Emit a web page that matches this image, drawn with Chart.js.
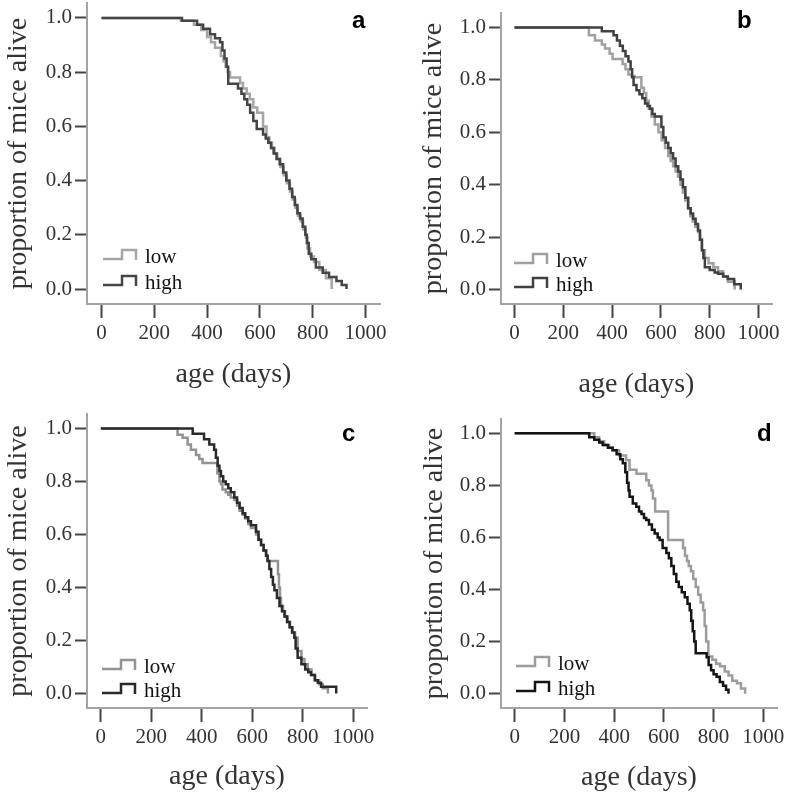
<!DOCTYPE html>
<html>
<head>
<meta charset="utf-8">
<script src="https://cdn.jsdelivr.net/npm/chart.js@4.4.0/dist/chart.umd.min.js"></script>
<style>
  html, body { margin: 0; padding: 0; background: #fff; overflow: hidden; }
  #wrap { position: relative; width: 787px; height: 792px; overflow: hidden; background: #fff; }
  canvas { position: absolute; }
</style>
</head>
<body>
<div id="wrap">
  <canvas id="pa" width="394" height="410" style="left:0;top:0"></canvas>
  <canvas id="pb" width="393" height="410" style="left:394px;top:0"></canvas>
  <canvas id="pc" width="394" height="410" style="left:0;top:396px"></canvas>
  <canvas id="pd" width="393" height="410" style="left:394px;top:396px"></canvas>
</div>
<script>
// axis ticks
var xTicks = [0, 200, 400, 600, 800, 1000];
var yTicks = [0, 0.2, 0.4, 0.6, 0.8, 1.0];
var seriesNames = ['low', 'high'];

// panel a
var aLowDays = [0,300,350,378,400,415,430,452,462,470,478,487,525,536,550,562,575,590,612,625,636,646,656,666,678,690,702,714,724,734,744,754,764,774,780,790,805,825,850,872];
var aLowSurv = [1.0,0.99,0.975,0.955,0.93,0.91,0.89,0.86,0.84,0.82,0.80,0.78,0.76,0.74,0.72,0.70,0.67,0.65,0.60,0.56,0.54,0.52,0.50,0.48,0.45,0.42,0.39,0.36,0.33,0.30,0.27,0.25,0.22,0.19,0.15,0.12,0.10,0.07,0.04,0.0];
var aHighDays = [0,305,362,385,411,430,449,458,466,474,480,517,530,541,552,563,575,588,612,622,632,642,652,663,675,688,700,712,722,732,742,752,762,772,778,785,795,812,838,862,890,910,928];
var aHighSurv = [1.0,0.99,0.975,0.96,0.94,0.925,0.91,0.88,0.85,0.82,0.757,0.74,0.72,0.70,0.68,0.65,0.62,0.59,0.57,0.555,0.54,0.52,0.50,0.48,0.46,0.43,0.40,0.37,0.34,0.31,0.28,0.26,0.23,0.20,0.17,0.13,0.11,0.08,0.06,0.045,0.03,0.015,0.0];

// panel b
var bLowDays = [0,305,330,358,371,390,402,443,455,467,480,493,520,530,540,550,561,575,590,603,617,630,640,650,660,670,680,690,700,710,720,730,740,752,760,768,780,795,815,834,855,874,902];
var bLowSurv = [1.0,0.97,0.95,0.935,0.92,0.90,0.88,0.86,0.84,0.82,0.815,0.81,0.77,0.75,0.72,0.69,0.66,0.63,0.60,0.57,0.54,0.51,0.49,0.47,0.45,0.43,0.40,0.37,0.34,0.31,0.28,0.26,0.24,0.22,0.19,0.15,0.12,0.10,0.085,0.07,0.05,0.03,0.0];
var bHighDays = [0,358,406,420,432,444,455,467,476,482,488,500,512,524,535,545,555,565,575,602,610,620,630,640,650,660,671,680,690,700,712,722,732,742,752,760,768,774,780,800,820,834,855,874,900,927];
var bHighSurv = [1.0,0.985,0.97,0.95,0.93,0.91,0.89,0.87,0.84,0.81,0.78,0.76,0.745,0.73,0.71,0.70,0.69,0.67,0.66,0.62,0.58,0.56,0.54,0.52,0.50,0.47,0.45,0.42,0.39,0.35,0.31,0.29,0.27,0.25,0.225,0.19,0.15,0.12,0.085,0.075,0.065,0.06,0.05,0.04,0.02,0.0];

// panel c
var cLowDays = [0,304,324,344,357,377,390,403,462,470,476,482,495,505,515,529,540,550,562,572,584,595,615,625,635,645,655,661,702,706,710,714,722,730,740,750,760,770,780,795,807,820,835,850,865,880,900];
var cLowSurv = [1.0,0.977,0.965,0.94,0.92,0.90,0.885,0.87,0.83,0.80,0.79,0.77,0.76,0.75,0.74,0.73,0.71,0.69,0.675,0.66,0.64,0.625,0.60,0.58,0.56,0.54,0.52,0.50,0.45,0.40,0.36,0.33,0.31,0.29,0.27,0.25,0.23,0.21,0.16,0.13,0.11,0.09,0.07,0.05,0.035,0.02,0.0];
var cHighDays = [0,364,409,430,449,456,463,470,476,485,495,505,515,529,540,550,562,572,584,595,615,625,635,645,655,661,668,675,682,688,698,708,718,728,738,748,758,767,772,780,795,810,822,833,848,860,873,933];
var cHighSurv = [1.0,0.98,0.96,0.94,0.92,0.89,0.86,0.84,0.82,0.80,0.79,0.775,0.76,0.74,0.72,0.70,0.68,0.665,0.65,0.635,0.61,0.58,0.56,0.54,0.52,0.50,0.47,0.44,0.41,0.39,0.36,0.33,0.31,0.29,0.27,0.25,0.23,0.21,0.17,0.135,0.11,0.09,0.08,0.07,0.05,0.04,0.025,0.0];

// panel d
var dLowDays = [0,320,340,360,380,394,420,448,462,490,529,540,550,556,565,617,677,685,693,700,709,718,728,738,748,758,764,770,779,795,810,826,845,860,875,894,910,927];
var dLowSurv = [1.0,0.985,0.97,0.955,0.945,0.935,0.915,0.897,0.86,0.845,0.82,0.80,0.78,0.75,0.70,0.59,0.56,0.53,0.51,0.49,0.47,0.44,0.41,0.38,0.35,0.32,0.26,0.20,0.143,0.13,0.115,0.105,0.085,0.07,0.05,0.04,0.02,0.0];
var dHighDays = [0,300,320,340,354,375,394,410,425,435,445,452,458,462,475,489,500,510,520,529,540,552,563,575,583,595,610,620,630,640,650,660,672,684,695,704,710,716,722,728,772,780,790,800,812,825,838,850,860];
var dHighSurv = [1.0,0.985,0.975,0.965,0.955,0.945,0.935,0.92,0.90,0.885,0.85,0.81,0.78,0.756,0.73,0.718,0.70,0.69,0.675,0.667,0.65,0.63,0.615,0.60,0.59,0.56,0.54,0.52,0.49,0.46,0.43,0.41,0.39,0.37,0.345,0.32,0.28,0.24,0.20,0.155,0.14,0.11,0.09,0.075,0.065,0.045,0.03,0.015,0.0];

function toPoints(days, surv) {
  return days.map(function (d, i) { return { x: d, y: surv[i] }; });
}

var panels = [
  { id: 'pa', letter: 'a', low: [aLowDays, aLowSurv], high: [aHighDays, aHighSurv],
    lowColor: '#a6a6a6', highColor: '#454545',
    h: 410, left: 87, padRight: 14, top: 3, bottom: 304, xTitlePad: 19, yTitlePad: 2,
    letterX: 352, letterY: 28, legX: 16, legLow: 45, legHigh: 19 },
  { id: 'pb', letter: 'b', low: [bLowDays, bLowSurv], high: [bHighDays, bHighSurv],
    lowColor: '#a0a0a0', highColor: '#404040',
    h: 410, left: 107, padRight: 15, top: 13, bottom: 304, xTitlePad: 9, yTitlePad: 23,
    letterX: 343, letterY: 28, legX: 13, legLow: 41, legHigh: 17 },
  { id: 'pc', letter: 'c', low: [cLowDays, cLowSurv], high: [cHighDays, cHighSurv],
    lowColor: '#939393', highColor: '#2a2a2a',
    h: 410, left: 87, padRight: 27, top: 18, bottom: 312, xTitlePad: 13, yTitlePad: 2,
    letterX: 342, letterY: 45, legX: 15, legLow: 39, legHigh: 15 },
  { id: 'pd', letter: 'd', low: [dLowDays, dLowSurv], high: [dHighDays, dHighSurv],
    lowColor: '#9c9c9c', highColor: '#141414',
    h: 410, left: 107, padRight: 10, top: 23, bottom: 312, xTitlePad: 12, yTitlePad: 24,
    letterX: 363, letterY: 45, legX: 15, legLow: 42, legHigh: 17 }
];

var serif = "'Liberation Serif', 'DejaVu Serif', serif";

panels.forEach(function (p) {
  var ctx = document.getElementById(p.id).getContext('2d');

  // legend glyphs + panel letter
  var extras = {
    id: 'extras_' + p.id,
    afterDraw: function (chart) {
      var c = chart.ctx, area = chart.chartArea;
      c.save();
      var rows = [
        { name: seriesNames[0], color: p.lowColor, y: area.bottom - p.legLow },
        { name: seriesNames[1], color: p.highColor, y: area.bottom - p.legHigh }
      ];
      rows.forEach(function (r) {
        var x0 = area.left + p.legX;
        c.strokeStyle = r.color;
        c.lineWidth = 2.5;
        c.beginPath();
        c.moveTo(x0, r.y);
        c.lineTo(x0 + 19, r.y);
        c.lineTo(x0 + 19, r.y - 9);
        c.lineTo(x0 + 33, r.y - 9);
        c.lineTo(x0 + 33, r.y + 1);
        c.stroke();
        c.fillStyle = '#111';
        c.font = '21px ' + serif;
        c.textBaseline = 'alphabetic';
        c.fillText(r.name, x0 + 42, r.y + 4);
      });
      c.fillStyle = '#000';
      c.font = "bold 24px 'Liberation Sans', Arial, sans-serif";
      c.fillText(p.letter, p.letterX, p.letterY);
      c.restore();
    }
  };

  new Chart(ctx, {
    type: 'line',
    data: {
      datasets: [
        { label: seriesNames[1], data: toPoints(p.high[0], p.high[1]),
          borderColor: p.highColor, borderWidth: 2.5, stepped: true, pointRadius: 0, fill: false },
        { label: seriesNames[0], data: toPoints(p.low[0], p.low[1]),
          borderColor: p.lowColor, borderWidth: 2.5, stepped: true, pointRadius: 0, fill: false }
      ]
    },
    options: {
      responsive: false,
      animation: false,
      events: [],
      layout: { padding: { left: 0, top: p.top, right: p.padRight, bottom: 0 } },
      plugins: { legend: { display: false }, tooltip: { enabled: false } },
      scales: {
        x: {
          type: 'linear', min: -55, max: 1055,
          afterBuildTicks: function (s) { s.ticks = xTicks.map(function (v) { return { value: v }; }); },
          afterFit: function (s) { s.height = p.h - p.bottom; s.paddingLeft = 0; s.paddingRight = 0; },
          grid: { drawOnChartArea: false, tickLength: 14, tickWidth: 2, tickColor: '#444' },
          border: { color: '#a3a3a3', width: 2 },
          ticks: { color: '#333', padding: 3, maxRotation: 0, font: { family: serif, size: 21 },
                   callback: function (v) { return String(v); } },
          title: { display: true, text: 'age (days)', color: '#333',
                   font: { family: serif, size: 28, lineHeight: 1.2 },
                   padding: { top: 0, bottom: p.xTitlePad } }
        },
        y: {
          type: 'linear', min: -0.055, max: 1.055,
          afterBuildTicks: function (s) { s.ticks = yTicks.map(function (v) { return { value: v }; }); },
          afterFit: function (s) { s.width = p.left; s.paddingTop = 0; s.paddingBottom = 0; },
          grid: { drawOnChartArea: false, tickLength: 12, tickWidth: 2, tickColor: '#444' },
          border: { color: '#a3a3a3', width: 2 },
          ticks: { color: '#333', padding: 3, font: { family: serif, size: 21 },
                   callback: function (v) { return v.toFixed(1); } },
          title: { display: true, text: 'proportion of mice alive', color: '#333',
                   font: { family: serif, size: 28, lineHeight: 1.2 },
                   padding: { top: p.yTitlePad, bottom: 0 } }
        }
      }
    },
    plugins: [extras]
  });
});
</script>
</body>
</html>
